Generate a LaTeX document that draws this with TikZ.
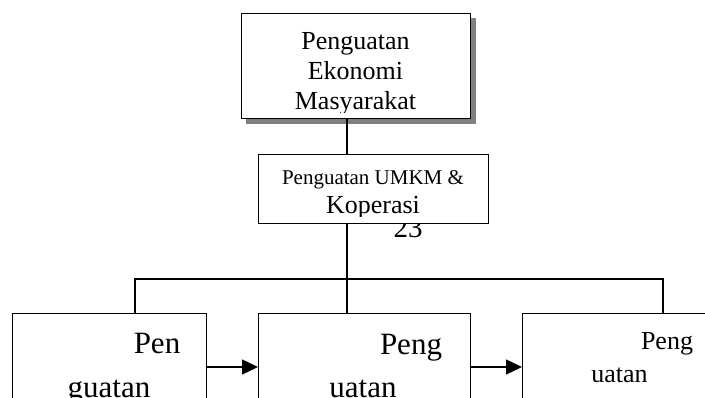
\documentclass[tikz,border=0pt]{standalone}
\usepackage{fontspec}
\setmainfont{Liberation Serif}
\usetikzlibrary{arrows.meta}
\begin{document}
\begin{tikzpicture}[x=1pt,y=-1pt,
  box/.style={draw=black, fill=white, line width=1.4pt, inner sep=0pt, anchor=north west},
  lbl/.style={anchor=base, inner sep=0pt},
  conn/.style={line width=1.4pt},
  arr/.style={conn, -{Triangle[length=16pt,width=15pt]}},
  shadowc/.style={fill=black!50}]
\useasboundingbox (0,0) rectangle (705,398);
\clip (0,0) rectangle (705,398);

% top box with shadow
\fill[shadowc] (246,18) rectangle (475.5,124.5);
\node[box, minimum width=229pt, minimum height=105pt] (top) at (241,13) {};
\begin{scope}
  \clip (top.north west) rectangle ([yshift=7pt]top.south east);
  \node[lbl, font=\fontsize{26}{30}\selectfont] (t1) at (355.5,50) {Penguatan};
  \node[lbl, font=\fontsize{26}{30}\selectfont] (t2) at (355.5,80) {Ekonomi};
  \node[lbl, font=\fontsize{26}{30}\selectfont] (t3) at (355.5,109.5) {Masyarakat};
\end{scope}

% page number behind middle box
\node[lbl, font=\fontsize{29}{32}\selectfont] (pg) at (408,238) {23};

% middle box
\node[box, minimum width=230pt, minimum height=69pt] (mid) at (258,154) {};
\begin{scope}
  \clip (mid.north west) rectangle ([yshift=7.5pt]mid.south east);
  \node[lbl, font=\fontsize{21}{24}\selectfont] (m1) at (373,185) {Penguatan UMKM \&};
  \node[lbl, font=\fontsize{26}{30}\selectfont] (m2) at (373,214) {Koperasi};
\end{scope}

% bottom boxes
\node[box, minimum width=194pt, minimum height=120pt] (b1) at (12,313) {};
\node[box, minimum width=212pt, minimum height=120pt] (b2) at (258,313) {};
\node[box, minimum width=220pt, minimum height=120pt] (b3) at (522,313) {};

\node[lbl, font=\fontsize{31}{34}\selectfont] (b1a) at (157,354) {Pen};
\node[lbl, font=\fontsize{31}{34}\selectfont] (b1b) at (109,397) {guatan};
\node[lbl, font=\fontsize{31}{34}\selectfont] (b2a) at (411,355) {Peng};
\node[lbl, font=\fontsize{31}{34}\selectfont] (b2b) at (363,397) {uatan};
\node[lbl, font=\fontsize{26}{30}\selectfont] (b3a) at (667,350) {Peng};
\node[lbl, font=\fontsize{26}{30}\selectfont] (b3b) at (619.5,383) {uatan};

% connectors
\coordinate (spine) at (347,279);
\coordinate (hl) at (135,279);
\coordinate (hr) at (663,279);
\coordinate (ay) at (0,367);
\draw[conn] (spine |- top.south) -- (spine |- mid.north);
\draw[conn] (spine |- mid.south) -- (spine);
\draw[conn] (hl |- b1.north) -- (hl) -- (hr) -- (hr |- b3.north);
\draw[conn] (spine) -- (spine |- b2.north);
\draw[arr] (b1.east |- ay) -- (b2.west |- ay);
\draw[arr] (b2.east |- ay) -- (b3.west |- ay);
\end{tikzpicture}
\end{document}
